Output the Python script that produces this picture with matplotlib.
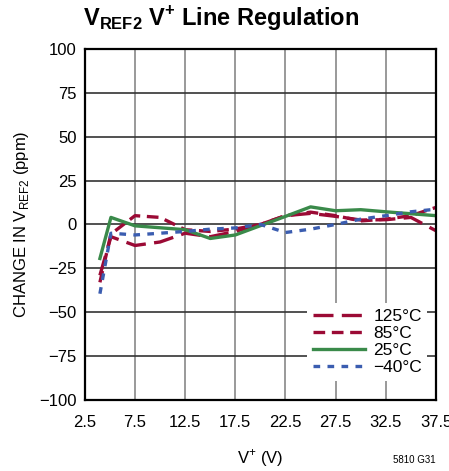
import matplotlib.pyplot as plt
from matplotlib import font_manager

# fuente estrecha si existe
fams = [f.name for f in font_manager.fontManager.ttflist]
fuente = 'Liberation Sans Narrow' if 'Liberation Sans Narrow' in fams else 'Liberation Sans'
plt.rcParams['font.family'] = [fuente, 'DejaVu Sans']
plt.rcParams['mathtext.fontset'] = 'custom'
plt.rcParams['mathtext.rm'] = fuente
plt.rcParams['mathtext.bf'] = fuente + ':bold'

# datos
v_125 = [4.0, 5.1, 7.5, 10, 12.5, 15, 17.5, 20, 22.5, 25, 27.5, 30, 32.5, 35, 37.5]
ppm_125 = [-29, -7, -12, -10, -5, -7, -4, 0, 5, 6.3, 4.6, 2.5, 2.7, 4, -3.6]

v_85 = [4.0, 5.1, 7.5, 10, 12.5, 15, 17.5, 20, 22.5, 25, 27.5, 30, 32.5, 35, 37.5]
ppm_85 = [-33, -5.5, 5, 4, -3, -4, -2.6, 0, 5, 7, 5, 2, 3, 5, 9.7]

v_25 = [4.0, 5.1, 7.5, 12.5, 15, 17.5, 22.5, 25, 27.5, 30, 32.5, 37.5]
ppm_25 = [-19.4, 4, -0.8, -3, -8, -6, 4.6, 10, 7.8, 8.4, 7.2, 5]

v_m40 = [4.0, 5.1, 7.5, 10, 12.5, 15, 17.5, 20, 22.5, 25, 27.5, 30, 32.5, 35, 37.5]
ppm_m40 = [-39.5, -5, -6, -5, -4, -2.7, -2, 0, -4.6, -2.7, 0, 3, 5, 7.2, 8.7]

rojo = '#9b0a35'
verde = '#3a8a4a'
azul = '#3b5db0'

fig = plt.figure(figsize=(4.49, 4.71), dpi=100)
ax = fig.add_axes([0.189, 0.151, 0.782, 0.745])

ax.plot(v_125, ppm_125, color=rojo, lw=2.4, dashes=(6, 2.5), label='125°C')
ax.plot(v_85, ppm_85, color=rojo, lw=2.4, dashes=(3.5, 2), label='85°C')
ax.plot(v_25, ppm_25, color=verde, lw=2.4, label='25°C')
ax.plot(v_m40, ppm_m40, color=azul, lw=2.4, dashes=(2, 2.2), label='\u221240°C')

ax.set_xlim(2.5, 37.5)
ax.set_ylim(-100, 100)
ax.set_xticks([2.5, 7.5, 12.5, 17.5, 22.5, 27.5, 32.5, 37.5])
ax.set_yticks(range(-100, 101, 25))
ax.set_yticklabels([str(t).replace('-', '\u2212') for t in range(-100, 101, 25)])
ax.tick_params(length=0, labelsize=12, pad=6)
ax.tick_params(axis='x', pad=11)
ax.xaxis.grid(True, color='#888888', lw=1.2)
ax.yaxis.grid(True, color='#333333', lw=1.2)
ax.set_axisbelow(True)
for s in ax.spines.values():
    s.set_linewidth(1.6)

ax.set_xlabel('V$^{+}$ (V)', fontsize=12, labelpad=12)
ax.set_ylabel('CHANGE IN V$_{\\mathrm{REF2}}$ (ppm)', fontsize=12, labelpad=6)
fig.text(0.185, 0.96, 'V$_{\\mathbf{REF2}}$ V$^{\\mathbf{+}}$ Line Regulation',
         fontsize=17, fontweight='bold', ha='left', va='center')
fig.text(0.97, 0.012, '5810 G31', fontsize=7, ha='right', va='bottom')

leg = ax.legend(loc='lower right', bbox_to_anchor=(1.0, 0.03), fontsize=12.5,
                handlelength=3.0, labelspacing=0.12, handletextpad=0.5,
                frameon=True, borderpad=0.3)
leg.get_frame().set_edgecolor('none')
leg.get_frame().set_facecolor('white')
leg.get_frame().set_alpha(1)

plt.savefig('out.png', dpi=100)
